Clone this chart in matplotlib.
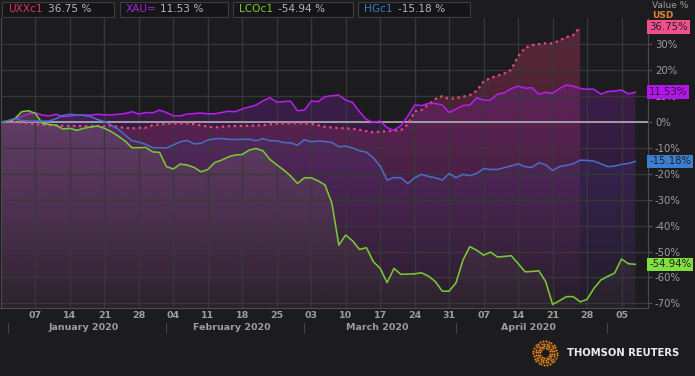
import numpy as np
import pandas as pd
import matplotlib
matplotlib.use("Agg")
import matplotlib.pyplot as plt
import matplotlib.transforms as mtransforms
from matplotlib.colors import to_rgb
from matplotlib.patches import Rectangle

## data (% change since 31 Dec 2019, one value per weekday)

dates = pd.bdate_range("2019-12-31", "2020-05-07")

uxx = [0, 0, -0.1, -0.3, -0.5, -0.8, -1.0, -1.2, -1.3, -1.4, -1.4, -1.5, -1.5, -1.5, -1.5, -1.5,
       -1.4, -1.9, -2.2, -2.4, -2.2, -2.2, -1.2, -0.9, -0.6, -0.5, -0.5, -0.5, -0.8, -1.3, -1.7,
       -2.1, -1.8, -1.6, -1.5, -1.5, -1.4, -1.3, -1.2, -0.9, -0.6, -0.5, -0.4, -0.4, -0.5, -0.7,
       -1.2, -1.8, -2.1, -2.3, -2.4, -2.6, -3.0, -3.5, -4.0, -3.7, -3.5, -3.3, -3.1, -0.9, 4.2,
       4.6, 6.8, 8.9, 10.0, 8.9, 9.3, 9.8, 10.4, 12.1, 15.7, 17.0, 17.9, 18.8, 20.2, 25.4,
       28.7, 29.7, 30.1, 30.4, 30.4, 31.5, 32.8, 33.6, 36.75]

xau = [0, 0.3, 1.2, 2.2, 3.2, 3.6, 2.7, 2.4, 3.0, 2.1, 2.3, 2.7, 2.7, 2.7, 3.0, 2.8,
       2.8, 3.0, 3.3, 4.0, 3.1, 3.7, 3.6, 4.6, 3.7, 2.4, 2.4, 3.1, 3.3, 3.5, 3.2,
       3.2, 3.7, 4.2, 4.0, 5.1, 5.8, 6.6, 8.2, 9.4, 7.7, 7.9, 8.1, 4.4, 4.6, 8.1,
       7.9, 9.8, 10.2, 10.4, 8.5, 7.6, 4.0, 1.0, -0.1, 0.4, -2.2, -3.1, -1.4, 2.3, 6.6,
       6.4, 7.2, 7.2, 6.6, 3.7, 5.0, 6.4, 6.6, 9.4, 8.5, 8.5, 10.8, 11.3, 12.9, 13.9,
       13.1, 13.3, 10.8, 11.5, 11.1, 13.0, 14.3, 13.9, 13.0, 12.7, 12.7, 10.8, 11.8, 12.0, 12.4, 10.9, 11.53]

lco = [0, 0.1, 1.3, 4.0, 4.4, 3.3, -0.5, -0.9, -1.2, -2.7, -2.4, -3.2, -2.4, -1.9, -1.5, -2.4,
       -3.7, -5.4, -7.3, -9.9, -9.9, -9.8, -11.5, -11.7, -17.2, -18.1, -16.2, -16.6, -17.5, -19.2, -18.3,
       -15.6, -14.7, -13.4, -12.7, -12.5, -10.8, -10.2, -11.1, -14.4, -16.5, -18.5, -20.8, -23.7, -21.5, -21.5,
       -22.7, -24.3, -31.4, -47.5, -43.6, -45.9, -49.2, -48.5, -53.9, -56.5, -62.0, -56.5, -58.8, -58.7, -58.6,
       -58.2, -59.5, -61.6, -65.3, -65.3, -62.0, -53.3, -48.1, -49.5, -51.4, -50.2, -52.1, -51.9, -51.6, -54.6,
       -57.8, -57.7, -57.4, -61.6, -70.4, -69.0, -67.4, -67.4, -69.4, -68.5, -64.2, -61.0, -59.6, -58.3, -52.9, -54.7, -54.94]

hg = [0, 0.6, 1.4, 0.6, 0.4, 0.4, 0.4, 0.4, 1.3, 2.6, 3.0, 2.8, 2.6, 2.1, 1.0, 0.2,
      -1.2, -2.8, -5.0, -7.2, -7.7, -8.6, -9.9, -9.9, -10.0, -8.8, -7.6, -7.1, -8.4, -8.2, -6.9,
      -6.5, -6.3, -6.7, -6.7, -6.7, -6.6, -7.2, -6.4, -7.2, -7.2, -7.9, -8.0, -8.9, -6.8, -7.6,
      -7.3, -7.5, -7.9, -9.5, -9.3, -10.0, -11.1, -11.6, -13.8, -17.0, -22.4, -21.4, -21.5, -23.8, -21.5,
      -20.2, -21.0, -21.5, -22.4, -19.9, -21.5, -20.2, -20.7, -19.8, -18.0, -18.3, -18.3, -17.6, -16.9, -16.1,
      -17.2, -17.5, -15.7, -16.5, -18.7, -17.2, -16.7, -16.1, -14.7, -14.8, -15.1, -16.1, -17.2, -17.0, -16.3, -16.0, -15.18]

names = ["UXXc1", "XAU=", "LCOc1", "HGc1"]
series = [uxx, xau, lco, hg]
line_colors = ["#e8457f", "#b41ee8", "#78c832", "#4a6cc0"]
fill_colors = ["#d03a68", "#8a20b8", "#989070", "#4a3c92"]
tag_colors = ["#f0508c", "#b414f0", "#80e03c", "#3a80d0"]
text_colors = ["#d8336b", "#a824d8", "#7cc832", "#3a78c0"]
yticks = [-70, -60, -50, -40, -30, -20, -10, 0, 10, 20, 30]

BG = "#1c1c1f"
GRID = "#38383b"
TXT = "#9c9c9c"

W, H = 695, 376
fig = plt.figure(figsize=(W / 100, H / 100), dpi=100, facecolor=BG)
ax = fig.add_axes([0.5 / W, 1 - 308 / H, 647.5 / W, 290 / H], facecolor=BG)

YMIN, YMAX = -71.8, 40.2
XMIN, XMAX = -0.07, 93.84

idx_all = np.arange(len(dates))


def grad_fill(x, y, color, a_top, a_bot):
    poly = ax.fill_between(x, y, YMIN, facecolor="none", edgecolor="none")
    grad = np.zeros((256, 1, 4))
    grad[..., :3] = to_rgb(color)
    grad[..., 3] = np.linspace(a_top, a_bot, 256)[:, None]
    im = ax.imshow(grad, extent=[XMIN, XMAX, YMIN, YMAX], aspect="auto",
                   origin="upper", zorder=1, interpolation="bilinear")
    im.set_clip_path(poly.get_paths()[0], transform=ax.transData)


for vals, fc in zip(series, fill_colors):
    grad_fill(idx_all[:len(vals)], vals, fc, 0.36, 0.04)

# lines
for k, (vals, lc) in enumerate(zip(series, line_colors)):
    x = idx_all[:len(vals)]
    if k == 0:
        ax.plot(x, vals, color=lc, lw=1.6, ls=(0, (1.1, 1.6)), dash_capstyle="butt", zorder=4)
    else:
        ax.plot(x, vals, color=lc, lw=1.15, zorder=4)

ax.axhline(0, color="#b8aeb8", lw=1.2, zorder=3)

ax.set_xlim(XMIN, XMAX)
ax.set_ylim(YMIN, YMAX)

# x ticks on tuesdays
tues = [i for i, d in enumerate(dates) if d.weekday() == 1 and i > 0]
ax.set_xticks(tues)
ax.set_xticklabels([dates[i].strftime("%d") for i in tues], color=TXT, fontsize=6.8,
                   fontweight="bold")
ax.tick_params(axis="x", length=0, pad=2)
ax.yaxis.tick_right()
ax.set_yticks(yticks)
ax.set_yticklabels([f"{v}%" for v in yticks], color=TXT, fontsize=7.3)
ax.tick_params(axis="y", length=3, color="#555555", pad=2)
ax.grid(True, color=GRID, lw=0.9, zorder=0)
for s in ["left", "bottom", "right"]:
    ax.spines[s].set_color("#4a4a4d")
ax.spines["top"].set_visible(False)

# month labels and separators
months = pd.Series(idx_all).groupby(dates.month).agg(["min", "max"])
trans = mtransforms.blended_transform_factory(ax.transData, fig.transFigure)
for m, row in months.iterrows():
    if m == 12:
        continue
    ax.text(row["min"], 1 - 328 / H, "|", transform=trans, ha="center", va="center",
            color="#555555", fontsize=7)
    if m <= 4:
        lab = dates[row["min"]].strftime("%B %Y")
        ax.text((row["min"] + row["max"]) / 2, 1 - 328 / H, lab, transform=trans,
                ha="center", va="center", color=TXT, fontsize=6.8, fontweight="bold")

# last value tags on right
ytrans = mtransforms.blended_transform_factory(ax.transAxes, ax.transData)
for vals, tc in zip(series, tag_colors):
    ax.text(1.002, vals[-1], f"{vals[-1]:.2f}%", transform=ytrans, ha="left", va="center",
            fontsize=7.3, color="#2a1a2a", clip_on=False, zorder=6,
            bbox=dict(boxstyle="square,pad=0.18", fc=tc, ec="none"))

fig.text(652 / W, 1 - 6 / H, "Value %", color=TXT, fontsize=6.5, va="center")
fig.text(652 / W, 1 - 15 / H, "USD", color="#e0862a", fontsize=6.5, va="center",
         fontweight="bold")

# legend boxes on top
boxes = [(2, 114, 48), (120, 228, 160), (233, 353, 278), (358, 470, 398)]
for (x0, x1, xv), name, vals, tc in zip(boxes, names, series, text_colors):
    fig.patches.append(Rectangle((x0 / W, 1 - 17 / H), (x1 - x0) / W, 15 / H,
                                 transform=fig.transFigure, fc="#151517", ec="#3e3e42",
                                 lw=0.8))
    fig.text((x0 + 6) / W, 1 - 9.5 / H, name, color=tc, fontsize=7.6, va="center")
    fig.text(xv / W, 1 - 9.5 / H, f"{vals[-1]:.2f} %", color="#b4b4b4", fontsize=7.6,
             va="center")

# Thomson Reuters logo
lax = fig.add_axes([532 / W, 1 - 366 / H, 26 / W, 26 / H])
lax.set_xlim(-1.1, 1.1)
lax.set_ylim(-1.1, 1.1)
lax.axis("off")
for r, n in [(1.0, 26), (0.8, 22), (0.6, 18), (0.42, 12)]:
    t = np.linspace(0, 2 * np.pi, n, endpoint=False) + r
    lax.scatter(r * np.cos(t), r * np.sin(t), s=2.2, color="#e8861c", lw=0)
fig.text(567 / W, 1 - 353 / H, "THOMSON REUTERS", color="#ececec", fontsize=7.2,
         fontweight="bold", va="center")

fig.savefig("out.png", dpi=100, facecolor=BG)
